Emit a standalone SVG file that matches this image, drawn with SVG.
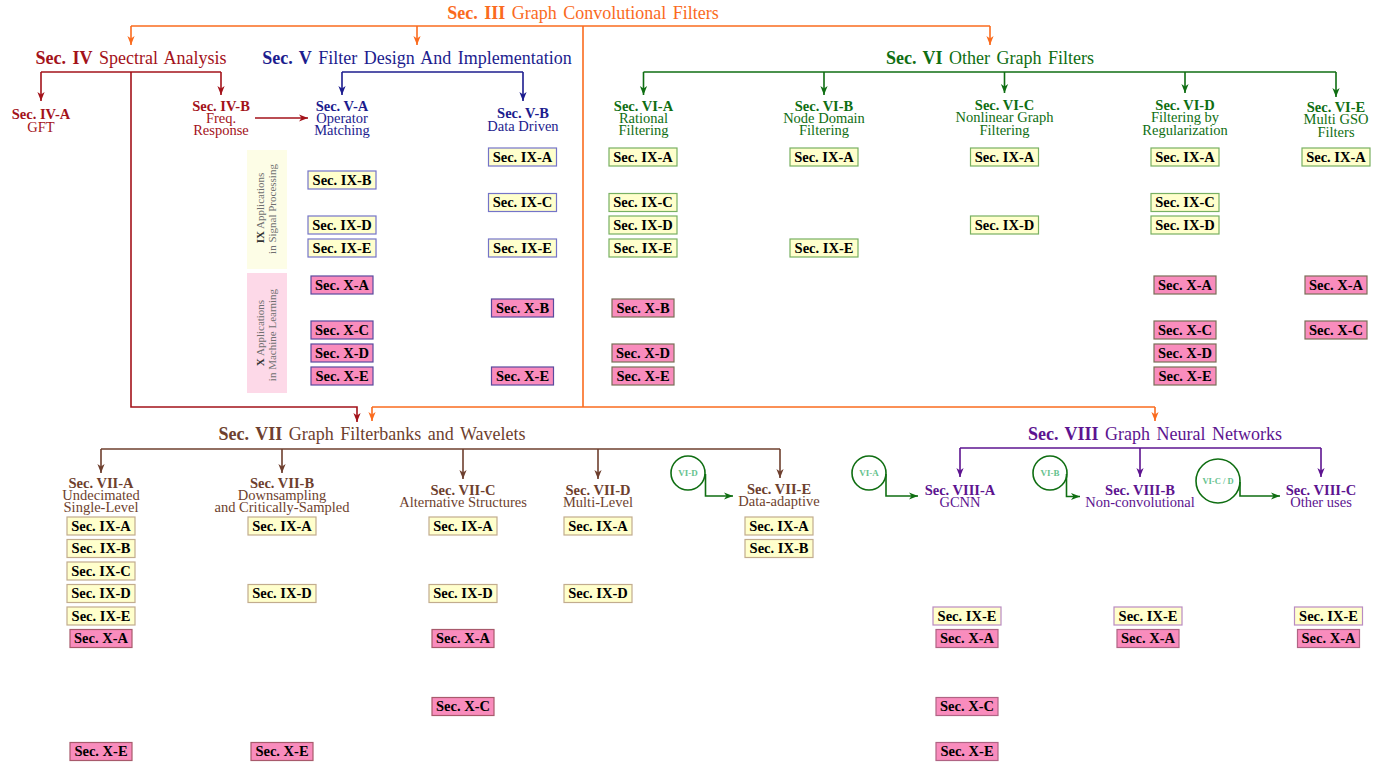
<svg xmlns="http://www.w3.org/2000/svg" width="1393" height="764" viewBox="0 0 1393 764">
<style>
text{font-family:"Liberation Serif","Times New Roman",serif}
.title{font-size:18px;text-anchor:middle;word-spacing:2px}
.sub{font-size:14.5px;text-anchor:middle}
.b{font-weight:bold}
.bx text{font-size:14.5px;font-weight:bold;text-anchor:middle;fill:#000}
.bx rect{stroke-width:1.2}
.y{fill:#FFFFCC}
.p{fill:#F98CBD}
.bV .y{stroke:#7474C8}.bV .p{stroke:#5A4A9E}
.bG .y{stroke:#78B062}.bG .p{stroke:#7A6E58}
.bB .y{stroke:#C2AC8E}.bB .p{stroke:#A85A6C}
.bP .y{stroke:#B98BC2}.bP .p{stroke:#B06484}
.cO{fill:#FA6B1E}.cR{fill:#A3121A}.cN{fill:#1C1C8E}.cG{fill:#0F6E12}.cBr{fill:#6E3F2E}.cP{fill:#5D1490}
.band{font-size:11px;text-anchor:middle;fill:#707070}
.band .b{fill:#333}
.circ{fill:none;stroke:#0F6E12;stroke-width:1.6}
.ctx{font-size:9px;font-weight:bold;fill:#66C28E;text-anchor:middle}
</style>
<defs>
<marker id="aO" viewBox="-10 -5 11 10" markerWidth="11" markerHeight="10" refX="0" refY="0" orient="auto" markerUnits="userSpaceOnUse"><path d="M0,0 L-9,-3.6 L-6.5,0 L-9,3.6 Z" fill="#FA6B1E"/></marker>
<marker id="aR" viewBox="-10 -5 11 10" markerWidth="11" markerHeight="10" refX="0" refY="0" orient="auto" markerUnits="userSpaceOnUse"><path d="M0,0 L-9,-3.6 L-6.5,0 L-9,3.6 Z" fill="#A3121A"/></marker>
<marker id="aN" viewBox="-10 -5 11 10" markerWidth="11" markerHeight="10" refX="0" refY="0" orient="auto" markerUnits="userSpaceOnUse"><path d="M0,0 L-9,-3.6 L-6.5,0 L-9,3.6 Z" fill="#1C1C8E"/></marker>
<marker id="aG" viewBox="-10 -5 11 10" markerWidth="11" markerHeight="10" refX="0" refY="0" orient="auto" markerUnits="userSpaceOnUse"><path d="M0,0 L-9,-3.6 L-6.5,0 L-9,3.6 Z" fill="#0F6E12"/></marker>
<marker id="aB" viewBox="-10 -5 11 10" markerWidth="11" markerHeight="10" refX="0" refY="0" orient="auto" markerUnits="userSpaceOnUse"><path d="M0,0 L-9,-3.6 L-6.5,0 L-9,3.6 Z" fill="#6E3F2E"/></marker>
<marker id="aP" viewBox="-10 -5 11 10" markerWidth="11" markerHeight="10" refX="0" refY="0" orient="auto" markerUnits="userSpaceOnUse"><path d="M0,0 L-9,-3.6 L-6.5,0 L-9,3.6 Z" fill="#5D1490"/></marker>
</defs>
<rect width="1393" height="764" fill="#fff"/>

<!-- connectors -->
<g id="connectors" fill="none" stroke-width="1.6">
<g stroke="#FA6B1E">
<path d="M131,26 H990"/>
<path d="M131,26 V45" marker-end="url(#aO)"/>
<path d="M417,26 V45" marker-end="url(#aO)"/>
<path d="M990,26 V45" marker-end="url(#aO)"/>
<path d="M583,26 V407"/>
<path d="M372,407 H1155"/>
<path d="M372,407 V421" marker-end="url(#aO)"/>
<path d="M1155,407 V421" marker-end="url(#aO)"/>
</g>
<g stroke="#A3121A">
<path d="M41,72 H221"/>
<path d="M41,72 V101" marker-end="url(#aR)"/>
<path d="M221,72 V95" marker-end="url(#aR)"/>
<path d="M131,72 V407 H357 V422" marker-end="url(#aR)"/>
<path d="M255,118 H308" marker-end="url(#aR)"/>
</g>
<g stroke="#1C1C8E">
<path d="M342,72 H523"/>
<path d="M342,72 V95" marker-end="url(#aN)"/>
<path d="M523,72 V101" marker-end="url(#aN)"/>
</g>
<g stroke="#0F6E12">
<path d="M643.5,72 H1336"/>
<path d="M643.5,72 V95" marker-end="url(#aG)"/>
<path d="M824,72 V95" marker-end="url(#aG)"/>
<path d="M1004.5,72 V93" marker-end="url(#aG)"/>
<path d="M1185,72 V93" marker-end="url(#aG)"/>
<path d="M1336,72 V97" marker-end="url(#aG)"/>
<path d="M705.5,474 V496 H733" marker-end="url(#aG)"/>
<path d="M886,474 V496 H918" marker-end="url(#aG)"/>
<path d="M1066.5,474 V496.5 H1080" marker-end="url(#aG)"/>
<path d="M1240,482 V496 H1280" marker-end="url(#aG)"/>
</g>
<g stroke="#6E3F2E">
<path d="M101,449 H780"/>
<path d="M101,449 V473" marker-end="url(#aB)"/>
<path d="M282,449 V473" marker-end="url(#aB)"/>
<path d="M463,449 V479" marker-end="url(#aB)"/>
<path d="M598,449 V479" marker-end="url(#aB)"/>
<path d="M780,449 V478" marker-end="url(#aB)"/>
</g>
<g stroke="#5D1490">
<path d="M960,448 H1321"/>
<path d="M960,448 V477" marker-end="url(#aP)"/>
<path d="M1140,448 V477" marker-end="url(#aP)"/>
<path d="M1321,448 V477" marker-end="url(#aP)"/>
</g>
</g>

<!-- section titles -->
<g id="secIII"><text class="title cO" x="583" y="19"><tspan class="b">Sec. III</tspan> Graph Convolutional Filters</text></g>
<g id="secIV"><text class="title cR" x="131" y="64"><tspan class="b">Sec. IV</tspan> Spectral Analysis</text></g>
<g id="secV"><text class="title cN" x="417" y="64"><tspan class="b">Sec. V</tspan> Filter Design And Implementation</text></g>
<g id="secVI"><text class="title cG" x="990" y="64"><tspan class="b">Sec. VI</tspan> Other Graph Filters</text></g>
<g id="secVII"><text class="title cBr" x="372" y="440"><tspan class="b">Sec. VII</tspan> Graph Filterbanks and Wavelets</text></g>
<g id="secVIII"><text class="title cP" x="1155" y="440"><tspan class="b">Sec. VIII</tspan> Graph Neural Networks</text></g>

<!-- subsections -->
<g id="secIVA"><text class="sub cR b" x="41" y="118.5">Sec. IV-A</text><text class="sub cR" x="41" y="131.5">GFT</text></g>
<g id="secIVB"><text class="sub cR b" x="221" y="110.5">Sec. IV-B</text><text class="sub cR" x="221" y="122.5">Freq.</text><text class="sub cR" x="221" y="135">Response</text></g>
<g id="secVA"><text class="sub cN b" x="342" y="110.5">Sec. V-A</text><text class="sub cN" x="342" y="122.5">Operator</text><text class="sub cN" x="342" y="135">Matching</text></g>
<g id="secVB"><text class="sub cN b" x="523" y="117.5">Sec. V-B</text><text class="sub cN" x="523" y="130.5">Data Driven</text></g>
<g id="secVIA"><text class="sub cG b" x="643.5" y="110.5">Sec. VI-A</text><text class="sub cG" x="643.5" y="122.5">Rational</text><text class="sub cG" x="643.5" y="135">Filtering</text></g>
<g id="secVIB"><text class="sub cG b" x="824" y="110.5">Sec. VI-B</text><text class="sub cG" x="824" y="122.5">Node Domain</text><text class="sub cG" x="824" y="135">Filtering</text></g>
<g id="secVIC"><text class="sub cG b" x="1004.5" y="109.5">Sec. VI-C</text><text class="sub cG" x="1004.5" y="122">Nonlinear Graph</text><text class="sub cG" x="1004.5" y="134.5">Filtering</text></g>
<g id="secVID"><text class="sub cG b" x="1185" y="109.5">Sec. VI-D</text><text class="sub cG" x="1185" y="122">Filtering by</text><text class="sub cG" x="1185" y="134.5">Regularization</text></g>
<g id="secVIE"><text class="sub cG b" x="1336" y="111.5">Sec. VI-E</text><text class="sub cG" x="1336" y="124">Multi GSO</text><text class="sub cG" x="1336" y="136.5">Filters</text></g>
<g id="secVIIA"><text class="sub cBr b" x="101" y="487.5">Sec. VII-A</text><text class="sub cBr" x="101" y="499.5">Undecimated</text><text class="sub cBr" x="101" y="511.5">Single-Level</text></g>
<g id="secVIIB"><text class="sub cBr b" x="282" y="487.5">Sec. VII-B</text><text class="sub cBr" x="282" y="499.5">Downsampling</text><text class="sub cBr" x="282" y="511.5">and Critically-Sampled</text></g>
<g id="secVIIC"><text class="sub cBr b" x="463" y="494.5">Sec. VII-C</text><text class="sub cBr" x="463" y="506.5">Alternative Structures</text></g>
<g id="secVIID"><text class="sub cBr b" x="598" y="494.5">Sec. VII-D</text><text class="sub cBr" x="598" y="506.5">Multi-Level</text></g>
<g id="secVIIE"><text class="sub cBr b" x="779" y="493.5">Sec. VII-E</text><text class="sub cBr" x="779" y="505.5">Data-adaptive</text></g>
<g id="secVIIIA"><text class="sub cP b" x="960" y="494.5">Sec. VIII-A</text><text class="sub cP" x="960" y="506.5">GCNN</text></g>
<g id="secVIIIB"><text class="sub cP b" x="1140" y="494.5">Sec. VIII-B</text><text class="sub cP" x="1140" y="506.5">Non-convolutional</text></g>
<g id="secVIIIC"><text class="sub cP b" x="1321" y="494.5">Sec. VIII-C</text><text class="sub cP" x="1321" y="506.5">Other uses</text></g>

<!-- circles -->
<g id="refVID"><circle class="circ" cx="688" cy="473" r="17"/><text class="ctx" x="688" y="476">VI-D</text></g>
<g id="refVIA"><circle class="circ" cx="869" cy="473" r="17"/><text class="ctx" x="869" y="476">VI-A</text></g>
<g id="refVIB"><circle class="circ" cx="1050" cy="473" r="17"/><text class="ctx" x="1050" y="476">VI-B</text></g>
<g id="refVICD"><circle class="circ" cx="1218" cy="481" r="22"/><text class="ctx" x="1218" y="484" style="font-size:8.5px">VI-C / D</text></g>

<!-- application bands -->
<g id="bandIX"><rect x="247" y="150" width="40" height="119" fill="#FDFDE6"/>
<text class="band" transform="translate(264,208) rotate(-90)"><tspan class="b">IX</tspan> Applications</text>
<text class="band" transform="translate(276,209) rotate(-90)">in Signal Processing</text></g>
<g id="bandX"><rect x="247" y="273" width="40" height="120" fill="#FDD9E8"/>
<text class="band" transform="translate(264,333) rotate(-90)"><tspan class="b">X</tspan> Applications</text>
<text class="band" transform="translate(276,335) rotate(-90)">in Machine Learning</text></g>

<!-- boxes: Sec V -->
<g class="bx bV">
<g id="VA-IXB"><rect class="y" x="308" y="171" width="68" height="18"/><text x="342" y="184.8">Sec. IX-B</text></g>
<g id="VA-IXD"><rect class="y" x="308" y="216" width="68" height="18"/><text x="342" y="229.8">Sec. IX-D</text></g>
<g id="VA-IXE"><rect class="y" x="308" y="239" width="68" height="18"/><text x="342" y="252.8">Sec. IX-E</text></g>
<g id="VA-XA"><rect class="p" x="311" y="276" width="62" height="18"/><text x="342" y="289.8">Sec. X-A</text></g>
<g id="VA-XC"><rect class="p" x="311" y="321" width="62" height="18"/><text x="342" y="334.8">Sec. X-C</text></g>
<g id="VA-XD"><rect class="p" x="311" y="344" width="62" height="18"/><text x="342" y="357.8">Sec. X-D</text></g>
<g id="VA-XE"><rect class="p" x="311" y="367" width="62" height="18"/><text x="342" y="380.8">Sec. X-E</text></g>
<g id="VB-IXA"><rect class="y" x="488.5" y="148" width="68" height="18"/><text x="522.5" y="161.8">Sec. IX-A</text></g>
<g id="VB-IXC"><rect class="y" x="488.5" y="193.5" width="68" height="18"/><text x="522.5" y="207.3">Sec. IX-C</text></g>
<g id="VB-IXE"><rect class="y" x="488.5" y="239" width="68" height="18"/><text x="522.5" y="252.8">Sec. IX-E</text></g>
<g id="VB-XB"><rect class="p" x="491.5" y="299" width="62" height="18"/><text x="522.5" y="312.8">Sec. X-B</text></g>
<g id="VB-XE"><rect class="p" x="491.5" y="367" width="62" height="18"/><text x="522.5" y="380.8">Sec. X-E</text></g>
</g>

<!-- boxes: Sec VI -->
<g class="bx bG">
<g id="VIA-IXA"><rect class="y" x="609" y="148" width="68" height="18"/><text x="643" y="161.8">Sec. IX-A</text></g>
<g id="VIA-IXC"><rect class="y" x="609" y="193.5" width="68" height="18"/><text x="643" y="207.3">Sec. IX-C</text></g>
<g id="VIA-IXD"><rect class="y" x="609" y="216" width="68" height="18"/><text x="643" y="229.8">Sec. IX-D</text></g>
<g id="VIA-IXE"><rect class="y" x="609" y="239" width="68" height="18"/><text x="643" y="252.8">Sec. IX-E</text></g>
<g id="VIA-XB"><rect class="p" x="612" y="299" width="62" height="18"/><text x="643" y="312.8">Sec. X-B</text></g>
<g id="VIA-XD"><rect class="p" x="612" y="344" width="62" height="18"/><text x="643" y="357.8">Sec. X-D</text></g>
<g id="VIA-XE"><rect class="p" x="612" y="367" width="62" height="18"/><text x="643" y="380.8">Sec. X-E</text></g>
<g id="VIB-IXA"><rect class="y" x="790" y="148" width="68" height="18"/><text x="824" y="161.8">Sec. IX-A</text></g>
<g id="VIB-IXE"><rect class="y" x="790" y="239" width="68" height="18"/><text x="824" y="252.8">Sec. IX-E</text></g>
<g id="VIC-IXA"><rect class="y" x="970.5" y="148" width="68" height="18"/><text x="1004.5" y="161.8">Sec. IX-A</text></g>
<g id="VIC-IXD"><rect class="y" x="970.5" y="216" width="68" height="18"/><text x="1004.5" y="229.8">Sec. IX-D</text></g>
<g id="VID-IXA"><rect class="y" x="1151" y="148" width="68" height="18"/><text x="1185" y="161.8">Sec. IX-A</text></g>
<g id="VID-IXC"><rect class="y" x="1151" y="193.5" width="68" height="18"/><text x="1185" y="207.3">Sec. IX-C</text></g>
<g id="VID-IXD"><rect class="y" x="1151" y="216" width="68" height="18"/><text x="1185" y="229.8">Sec. IX-D</text></g>
<g id="VID-XA"><rect class="p" x="1154" y="276" width="62" height="18"/><text x="1185" y="289.8">Sec. X-A</text></g>
<g id="VID-XC"><rect class="p" x="1154" y="321" width="62" height="18"/><text x="1185" y="334.8">Sec. X-C</text></g>
<g id="VID-XD"><rect class="p" x="1154" y="344" width="62" height="18"/><text x="1185" y="357.8">Sec. X-D</text></g>
<g id="VID-XE"><rect class="p" x="1154" y="367" width="62" height="18"/><text x="1185" y="380.8">Sec. X-E</text></g>
<g id="VIE-IXA"><rect class="y" x="1302" y="148" width="68" height="18"/><text x="1336" y="161.8">Sec. IX-A</text></g>
<g id="VIE-XA"><rect class="p" x="1305" y="276" width="62" height="18"/><text x="1336" y="289.8">Sec. X-A</text></g>
<g id="VIE-XC"><rect class="p" x="1305" y="321" width="62" height="18"/><text x="1336" y="334.8">Sec. X-C</text></g>
</g>

<!-- boxes: Sec VII -->
<g class="bx bB">
<g id="VIIA-IXA"><rect class="y" x="67" y="517" width="68" height="18"/><text x="101" y="530.8">Sec. IX-A</text></g>
<g id="VIIA-IXB"><rect class="y" x="67" y="539.5" width="68" height="18"/><text x="101" y="553.3">Sec. IX-B</text></g>
<g id="VIIA-IXC"><rect class="y" x="67" y="562" width="68" height="18"/><text x="101" y="575.8">Sec. IX-C</text></g>
<g id="VIIA-IXD"><rect class="y" x="67" y="584.5" width="68" height="18"/><text x="101" y="598.3">Sec. IX-D</text></g>
<g id="VIIA-IXE"><rect class="y" x="67" y="607" width="68" height="18"/><text x="101" y="620.8">Sec. IX-E</text></g>
<g id="VIIA-XA"><rect class="p" x="70" y="629.5" width="62" height="18"/><text x="101" y="643.3">Sec. X-A</text></g>
<g id="VIIA-XE"><rect class="p" x="70" y="742.5" width="62" height="18"/><text x="101" y="756.3">Sec. X-E</text></g>
<g id="VIIB-IXA"><rect class="y" x="248" y="517" width="68" height="18"/><text x="282" y="530.8">Sec. IX-A</text></g>
<g id="VIIB-IXD"><rect class="y" x="248" y="584.5" width="68" height="18"/><text x="282" y="598.3">Sec. IX-D</text></g>
<g id="VIIB-XE"><rect class="p" x="251" y="742.5" width="62" height="18"/><text x="282" y="756.3">Sec. X-E</text></g>
<g id="VIIC-IXA"><rect class="y" x="429" y="517" width="68" height="18"/><text x="463" y="530.8">Sec. IX-A</text></g>
<g id="VIIC-IXD"><rect class="y" x="429" y="584.5" width="68" height="18"/><text x="463" y="598.3">Sec. IX-D</text></g>
<g id="VIIC-XA"><rect class="p" x="432" y="629.5" width="62" height="18"/><text x="463" y="643.3">Sec. X-A</text></g>
<g id="VIIC-XC"><rect class="p" x="432" y="697.5" width="62" height="18"/><text x="463" y="711.3">Sec. X-C</text></g>
<g id="VIID-IXA"><rect class="y" x="564" y="517" width="68" height="18"/><text x="598" y="530.8">Sec. IX-A</text></g>
<g id="VIID-IXD"><rect class="y" x="564" y="584.5" width="68" height="18"/><text x="598" y="598.3">Sec. IX-D</text></g>
<g id="VIIE-IXA"><rect class="y" x="745" y="517" width="68" height="18"/><text x="779" y="530.8">Sec. IX-A</text></g>
<g id="VIIE-IXB"><rect class="y" x="745" y="539.5" width="68" height="18"/><text x="779" y="553.3">Sec. IX-B</text></g>
</g>

<!-- boxes: Sec VIII -->
<g class="bx bP">
<g id="VIIIA-IXE"><rect class="y" x="933" y="607" width="68" height="18"/><text x="967" y="620.8">Sec. IX-E</text></g>
<g id="VIIIA-XA"><rect class="p" x="936" y="629.5" width="62" height="18"/><text x="967" y="643.3">Sec. X-A</text></g>
<g id="VIIIA-XC"><rect class="p" x="936" y="697.5" width="62" height="18"/><text x="967" y="711.3">Sec. X-C</text></g>
<g id="VIIIA-XE"><rect class="p" x="936" y="742.5" width="62" height="18"/><text x="967" y="756.3">Sec. X-E</text></g>
<g id="VIIIB-IXE"><rect class="y" x="1114" y="607" width="68" height="18"/><text x="1148" y="620.8">Sec. IX-E</text></g>
<g id="VIIIB-XA"><rect class="p" x="1117" y="629.5" width="62" height="18"/><text x="1148" y="643.3">Sec. X-A</text></g>
<g id="VIIIC-IXE"><rect class="y" x="1294.5" y="607" width="68" height="18"/><text x="1328.5" y="620.8">Sec. IX-E</text></g>
<g id="VIIIC-XA"><rect class="p" x="1297.5" y="629.5" width="62" height="18"/><text x="1328.5" y="643.3">Sec. X-A</text></g>
</g>
</svg>
